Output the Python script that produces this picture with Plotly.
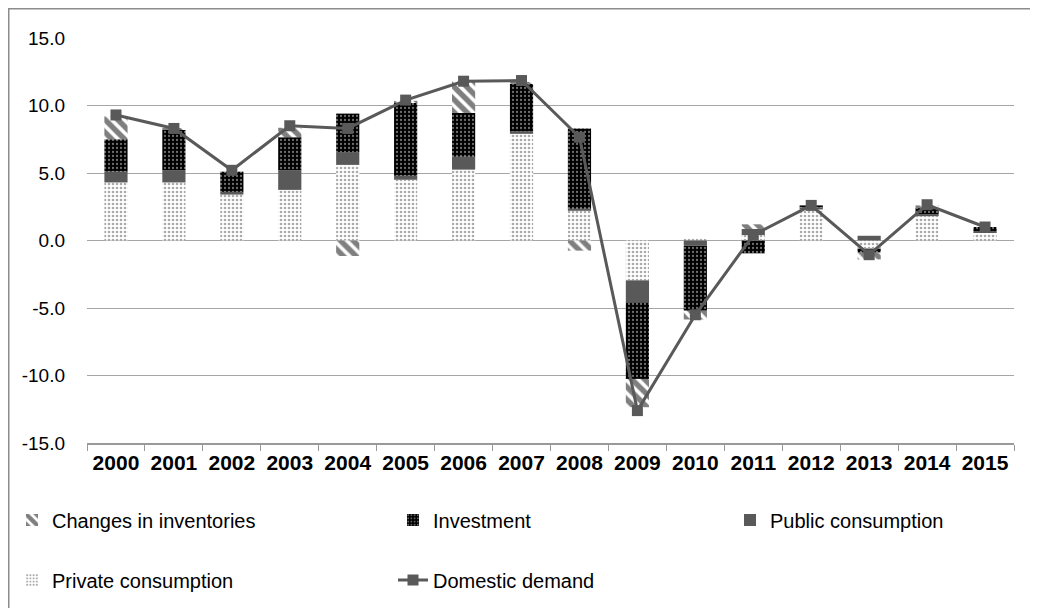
import plotly.graph_objects as go

years = [str(y) for y in range(2000, 2016)]
private_cons = [4.3, 4.3, 3.4, 3.75, 5.6, 4.5, 5.25, 7.9, 2.2, -2.95, 0.15, 0.4, 2.3, -0.6, 1.8, 0.6]
public_cons = [0.8, 0.9, 0.2, 1.45, 0.95, 0.3, 0.95, 0.2, 0.15, -1.65, -0.4, 0.45, 0.15, 0.35, 0.15, 0.1]
investment = [2.4, 3.0, 1.5, 2.45, 2.85, 5.45, 3.25, 3.5, 5.95, -5.65, -4.8, -0.95, 0.15, -0.3, 0.45, 0.3]
inventories = [1.7, 0.1, 0.0, 0.7, -1.15, 0.1, 2.35, 0.15, -0.75, -2.1, -0.65, 0.35, 0.0, -0.5, 0.2, 0.0]
domestic_demand = [9.3, 8.3, 5.2, 8.5, 8.3, 10.4, 11.8, 11.85, 7.65, -12.6, -5.5, 0.4, 2.6, -1.05, 2.65, 1.0]
y_ticks = [-15, -10, -5, 0, 5, 10, 15]
y_tick_text = ["-15.0", "-10.0", "-5.0", "0.0", "5.0", "10.0", "15.0"]

# page body has an 8px margin: work in reference pixel coords, shifted by OFF
OFF = 8
W, H = 1038 - OFF, 608 - OFF
PL, PR, PT, PB = 87, 1014, 38, 443   # plot area in reference pixels
L, R, T, B = PL - OFF, W - (PR - OFF), PT - OFF, H - (PB - OFF)
pw, ph = PR - PL, PB - PT

def px_x(p):
    return (p - PL) / pw

def px_y(p):
    return (PB - p) / ph

def cx(p):
    return (p - OFF) / W

def cy(p):
    return 1 - (p - OFF) / H

legend_font = dict(family="Liberation Sans, Arial", size=20, color="black")

fig = go.Figure()
fig.add_trace(go.Bar(
    x=years, y=private_cons, name="Private consumption", width=0.4,
    marker=dict(color="white", line=dict(width=0),
                pattern=dict(shape=".", fgcolor="#555555", bgcolor="white", size=4, solidity=0.35)),
    legend="legend4"))
fig.add_trace(go.Bar(
    x=years, y=public_cons, name="Public consumption", width=0.4,
    marker=dict(color="#595959", line=dict(width=0)),
    legend="legend3"))
fig.add_trace(go.Bar(
    x=years, y=investment, name="Investment", width=0.4,
    marker=dict(color="black", line=dict(width=0),
                pattern=dict(shape=".", fgcolor="#dddddd", bgcolor="black", size=4, solidity=0.25)),
    legend="legend2"))
fig.add_trace(go.Bar(
    x=years, y=inventories, name="Changes in inventories", width=0.4,
    marker=dict(color="white", line=dict(width=0),
                pattern=dict(shape="\\", fgcolor="black", bgcolor="white", size=9, solidity=0.6)),
    legend="legend"))
fig.add_trace(go.Scatter(
    x=years, y=domestic_demand, name="Domestic demand", mode="lines+markers",
    line=dict(color="#595959", width=3),
    marker=dict(symbol="square", size=11, color="#595959"),
    legend="legend5"))

def leg(xp, yp):
    return dict(xref="container", yref="container", x=cx(xp), y=cy(yp),
                xanchor="left", yanchor="middle",
                font=legend_font, bgcolor="rgba(0,0,0,0)", itemwidth=30)

fig.update_layout(
    width=W, height=H,
    margin=dict(l=L, r=R, t=T, b=B, autoexpand=False),
    paper_bgcolor="white", plot_bgcolor="white",
    barmode="relative",
    showlegend=True,
    font=dict(family="Liberation Sans, Arial", color="black"),
    legend=leg(12, 520),
    legend2=leg(393, 520),
    legend3=leg(730, 520),
    legend4=leg(12, 580),
    legend5=leg(393, 580),
    xaxis=dict(
        type="category", showgrid=False, showline=True, linecolor="#999999", linewidth=1.5,
        ticks="outside", tickson="boundaries", ticklen=6, tickcolor="#999999",
        tickangle=0,
        tickfont=dict(family="Liberation Sans, Arial", size=21, color="black", weight="bold"),
        range=[-0.5, 15.5],
    ),
    yaxis=dict(
        range=[-15, 15], tickvals=y_ticks, ticktext=y_tick_text,
        showgrid=True, gridcolor="#a6a6a6", gridwidth=1, zeroline=False, showline=False,
        ticks="", ticklabelstandoff=21,
        tickfont=dict(family="Liberation Sans, Arial", size=19, color="black"),
    ),
    shapes=[dict(type="rect", xref="paper", yref="paper",
                 x0=px_x(OFF + 0.75), x1=px_x(1050), y0=px_y(620), y1=px_y(OFF + 0.75),
                 line=dict(color="#8c8c8c", width=1.5), fillcolor="rgba(0,0,0,0)", layer="below")],
)

fig.write_html("out.html")
